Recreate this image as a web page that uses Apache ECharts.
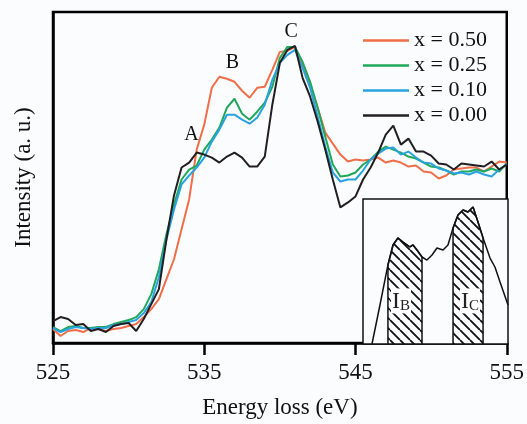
<!DOCTYPE html>
<html>
<head>
<meta charset="utf-8">
<script src="https://cdn.jsdelivr.net/npm/echarts@6/dist/echarts.min.js"></script>
<style>
  html, body { margin: 0; padding: 0; background: #fff; }
  #main { width: 527px; height: 424px; }
</style>
</head>
<body>
<div id="main"></div>
<script>
// 能量轴 (eV)
var energy = [525,525.5,526,526.5,527,527.5,528,528.5,529,529.5,530,530.5,531,531.5,532,532.5,533,533.5,534,534.5,535,535.5,536,536.5,537,537.5,538,538.5,539,539.5,540,540.5,541,541.5,542,542.5,543,543.5,544,544.5,545,545.5,546,546.5,547,547.5,548,548.5,549,549.5,550,550.5,551,551.5,552,552.5,553,553.5,554,554.5,555];

// 强度 (a. u.)
var x050 = [14,7,12,13,11,15,14,12,14,15,17,19,26,34,44,64,84,114,144,194,219,256,267,265,262,253,246,256,257,274,292,293,297,279,259,236,211,200,189,182,184,183,184,186,181,183,181,177,178,172,171,165,168,174,175,176,176,172,177,182,181];
var x025 = [16,12,16,17,15,15,16,16,19,21,23,26,34,49,74,109,139,164,174,178,194,204,216,236,245,230,224,232,241,257,286,297,297,282,262,236,207,179,167,168,171,179,184,192,197,194,191,187,185,181,177,176,173,169,172,172,174,172,175,172,180];
var x010 = [15,11,14,16,15,14,15,15,18,19,21,23,30,41,66,104,134,159,168,176,186,202,214,229,229,224,220,226,239,264,281,289,294,276,256,227,197,171,162,164,164,173,184,190,195,196,189,192,186,181,180,175,173,170,171,169,172,169,167,174,179];
var x000 = [22,26,24,18,19,12,14,11,17,19,20,12,24,39,54,104,148,176,181,191,189,186,181,187,191,186,177,177,187,239,281,294,298,266,247,222,194,164,136,141,147,164,176,191,209,218,199,205,192,192,188,180,179,174,180,179,178,177,182,174,179];

var seriesNames = ['x = 0.50', 'x = 0.25', 'x = 0.10', 'x = 0.00'];
var colors = ['#f06e48', '#20a85a', '#29a3e0', '#231f20'];

// 峰标记 A B C
var peakNames = ['A', 'B', 'C'];
var peakE = [534.16, 536.87, 540.75];
var peakI = [209, 281, 312];

// 插图曲线
var insetX = [6.2,11.7,17.2,20.7,24.1,27.6,32.4,34.5,37.2,40.7,44.1,47.6,51.0,55.2,58.6,62.1,65.5,69.0,72.4,75.9,79.3,82.8,87.6,91.0,94.5,100];
var insetY = [0,26.9,54.5,68.3,73.1,70.3,66.9,68.3,64.8,60.0,57.9,61.4,66.2,64.8,68.3,80.0,89.0,92.4,91.0,94.5,84.1,73.1,59.3,53.1,42.8,26.9];
var bandB = [17.2, 40.7];
var bandC = [62.1, 82.8];
var bandLabelX = [26.2, 73.8];
var bandLabelY = 29.7;

function pairs(xs, ys) {
  var out = [];
  for (var i = 0; i < xs.length; i++) out.push([xs[i], ys[i]]);
  return out;
}

// 阴影区: 曲线段加两端竖线
function band(range) {
  var out = [[range[0], 0]];
  for (var i = 0; i < insetX.length; i++) {
    if (insetX[i] >= range[0] && insetX[i] <= range[1]) out.push([insetX[i], insetY[i]]);
  }
  out.push([range[1], 0]);
  return out;
}

// 斜线填充
var hatch = document.createElement('canvas');
hatch.width = 10; hatch.height = 10;
var ctx = hatch.getContext('2d');
ctx.strokeStyle = '#111';
ctx.lineWidth = 1.8;
ctx.beginPath();
for (var k = -1; k <= 1; k++) {
  ctx.moveTo(k * 10, 0);
  ctx.lineTo(k * 10 + 10, 10);
}
ctx.stroke();

var font = 'Liberation Serif';
var myChart = echarts.init(document.getElementById('main'));

var mainData = [x050, x025, x010, x000];
var series = [];
for (var s = 0; s < 4; s++) {
  series.push({
    name: seriesNames[s],
    type: 'line',
    symbol: 'none',
    data: pairs(energy, mainData[s]),
    lineStyle: { color: colors[s], width: 2 },
    itemStyle: { color: colors[s] },
    z: 3
  });
}
series[3].markPoint = {
  symbol: 'circle',
  symbolSize: 1,
  itemStyle: { color: 'rgba(0,0,0,0)' },
  label: { show: true, position: 'inside', color: '#111', fontFamily: font, fontSize: 20 },
  data: peakNames.map(function (n, i) {
    return { name: n, coord: [peakE[i], peakI[i]], value: n };
  })
};

var bandStyle = {
  type: 'line',
  xAxisIndex: 1,
  yAxisIndex: 1,
  symbol: 'none',
  lineStyle: { color: '#111', width: 1.5 },
  areaStyle: { color: { image: hatch, repeat: 'repeat' }, opacity: 1 },
  z: 4
};

function bandLabel(sub, x) {
  return {
    symbol: 'circle',
    symbolSize: 1,
    itemStyle: { color: 'rgba(0,0,0,0)' },
    label: {
      show: true,
      position: 'inside',
      formatter: '{i|I}{s|' + sub + '}',
      backgroundColor: '#fff',
      padding: [1, 1, 0, 1],
      rich: {
        i: { fontFamily: font, fontSize: 24, color: '#222', verticalAlign: 'bottom' },
        s: { fontFamily: font, fontSize: 15, color: '#222', verticalAlign: 'bottom', padding: [6, 0, 0, 0] }
      }
    },
    data: [{ coord: [x, bandLabelY], value: sub }]
  };
}

series.push(Object.assign({}, bandStyle, { data: band(bandB), markPoint: bandLabel('B', bandLabelX[0]) }));
series.push(Object.assign({}, bandStyle, { data: band(bandC), markPoint: bandLabel('C', bandLabelX[1]) }));
series.push({
  type: 'line',
  xAxisIndex: 1,
  yAxisIndex: 1,
  symbol: 'none',
  data: pairs(insetX, insetY),
  lineStyle: { color: '#111', width: 1.5 },
  z: 5
});

var option = {
  backgroundColor: '#fbfcfe',
  animation: false,
  grid: [
    { left: 53, right: 19, top: 12, bottom: 80, show: true, borderColor: '#000', borderWidth: 2.5 },
    { left: 363, right: 19, top: 199, bottom: 80, show: true, borderColor: '#111', borderWidth: 1.5, backgroundColor: '#fbfcfe', z: 1 }
  ],
  legend: {
    data: seriesNames,
    orient: 'vertical',
    left: 358,
    top: 23,
    icon: 'rect',
    itemWidth: 46,
    itemHeight: 2.5,
    itemGap: 0,
    textStyle: { fontFamily: font, fontSize: 22, color: '#111', lineHeight: 25 }
  },
  xAxis: [{
    type: 'value',
    min: 525,
    max: 555,
    interval: 10,
    name: 'Energy loss (eV)',
    nameLocation: 'middle',
    nameGap: 53,
    nameTextStyle: { fontFamily: font, fontSize: 23, color: '#111' },
    axisLine: { lineStyle: { color: '#000', width: 2.5 } },
    axisTick: { show: true, inside: false, length: 12, lineStyle: { color: '#000', width: 2.5 } },
    axisLabel: { fontFamily: font, fontSize: 23, color: '#111', margin: 18 },
    splitLine: { show: false }
  }, {
    type: 'value',
    gridIndex: 1,
    min: 0,
    max: 100,
    show: false
  }],
  yAxis: [{
    type: 'value',
    min: 0,
    max: 332,
    name: 'Intensity (a. u.)',
    nameLocation: 'middle',
    nameGap: 18,
    nameTextStyle: { fontFamily: font, fontSize: 23, color: '#111' },
    axisLine: { show: true, lineStyle: { color: '#000', width: 2.5 } },
    axisTick: { show: false },
    axisLabel: { show: false },
    splitLine: { show: false }
  }, {
    type: 'value',
    gridIndex: 1,
    min: 0,
    max: 100,
    show: false
  }],
  series: series
};

myChart.setOption(option);
</script>
</body>
</html>
